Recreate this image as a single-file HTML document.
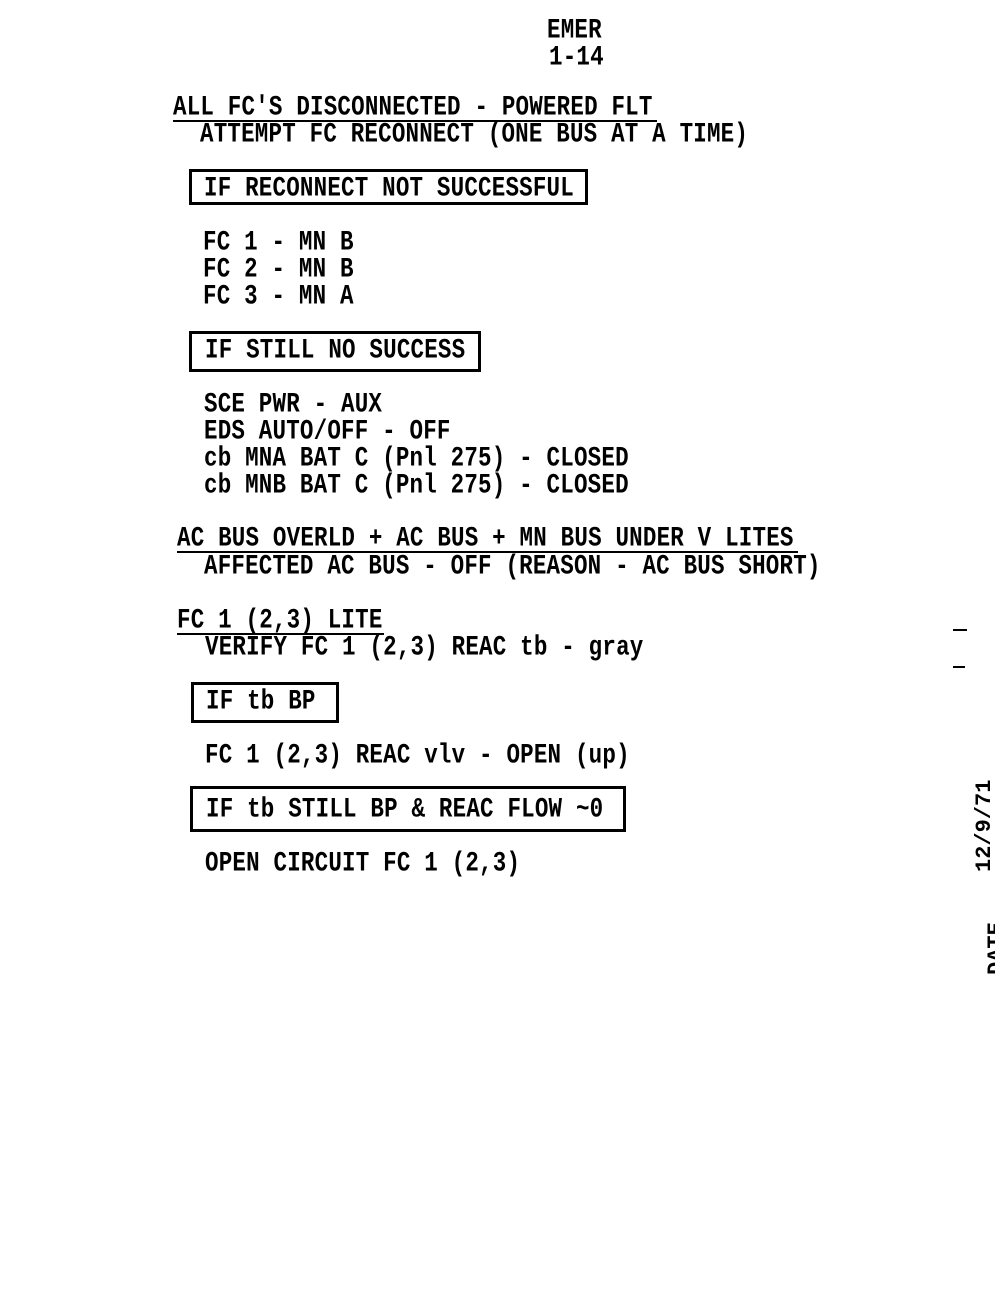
<!DOCTYPE html>
<html><head><meta charset="utf-8"><style>
html,body{margin:0;padding:0;background:#fff;}
body{width:1000px;height:1300px;position:relative;overflow:hidden;}
.t{position:absolute;font-family:"Liberation Mono",monospace;font-weight:bold;font-size:22.5px;line-height:24px;height:24px;white-space:pre;color:#000;transform:scaleY(1.25);transform-origin:left center;letter-spacing:0.2px;}
.u{position:absolute;height:2px;background:#000;}
.b{position:absolute;border:3px solid #000;box-sizing:border-box;}
.r{position:absolute;font-family:"Liberation Mono",monospace;font-weight:bold;font-size:22px;white-space:pre;transform:rotate(-90deg);transform-origin:left top;}
</style></head><body>
<div class="t" style="left:547px;top:18px">EMER</div>
<div class="t" style="left:549px;top:45px">1-14</div>

<div class="t" style="left:173px;top:95px">ALL FC'S DISCONNECTED - POWERED FLT</div>
<div class="u" style="left:173px;top:120px;width:484px"></div>
<div class="t" style="left:200px;top:122px">ATTEMPT FC RECONNECT (ONE BUS AT A TIME)</div>

<div class="b" style="left:189px;top:169px;width:399px;height:36px"></div>
<div class="t" style="left:204px;top:176px">IF RECONNECT NOT SUCCESSFUL</div>

<div class="t" style="left:203px;top:230px">FC 1 - MN B</div>
<div class="t" style="left:203px;top:257px">FC 2 - MN B</div>
<div class="t" style="left:203px;top:284px">FC 3 - MN A</div>

<div class="b" style="left:189px;top:331px;width:292px;height:41px"></div>
<div class="t" style="left:205px;top:338px">IF STILL NO SUCCESS</div>

<div class="t" style="left:204px;top:392px">SCE PWR - AUX</div>
<div class="t" style="left:204px;top:419px">EDS AUTO/OFF - OFF</div>
<div class="t" style="left:204px;top:446px">cb MNA BAT C (Pnl 275) - CLOSED</div>
<div class="t" style="left:204px;top:473px">cb MNB BAT C (Pnl 275) - CLOSED</div>

<div class="t" style="left:177px;top:526px">AC BUS OVERLD + AC BUS + MN BUS UNDER V LITES</div>
<div class="u" style="left:177px;top:551px;width:621px"></div>
<div class="t" style="left:204px;top:554px">AFFECTED AC BUS - OFF (REASON - AC BUS SHORT)</div>

<div class="t" style="left:177px;top:608px">FC 1 (2,3) LITE</div>
<div class="u" style="left:177px;top:633px;width:207px"></div>
<div class="t" style="left:205px;top:635px">VERIFY FC 1 (2,3) REAC tb - gray</div>

<div class="b" style="left:191px;top:682px;width:148px;height:41px"></div>
<div class="t" style="left:206px;top:689px">IF tb BP</div>

<div class="t" style="left:205px;top:743px">FC 1 (2,3) REAC vlv - OPEN (up)</div>

<div class="b" style="left:190px;top:786px;width:436px;height:46px"></div>
<div class="t" style="left:206px;top:797px">IF tb STILL BP &amp; REAC FLOW ~0</div>

<div class="t" style="left:205px;top:851px">OPEN CIRCUIT FC 1 (2,3)</div>

<div class="u" style="left:953px;top:629px;width:14px"></div>
<div class="u" style="left:953px;top:666px;width:12px"></div>
<div class="r" style="left:972px;top:872px">12/9/71</div>
<div class="r" style="left:984px;top:975px;clip-path:inset(0 0 14px 0)">DATE</div>
</body></html>
